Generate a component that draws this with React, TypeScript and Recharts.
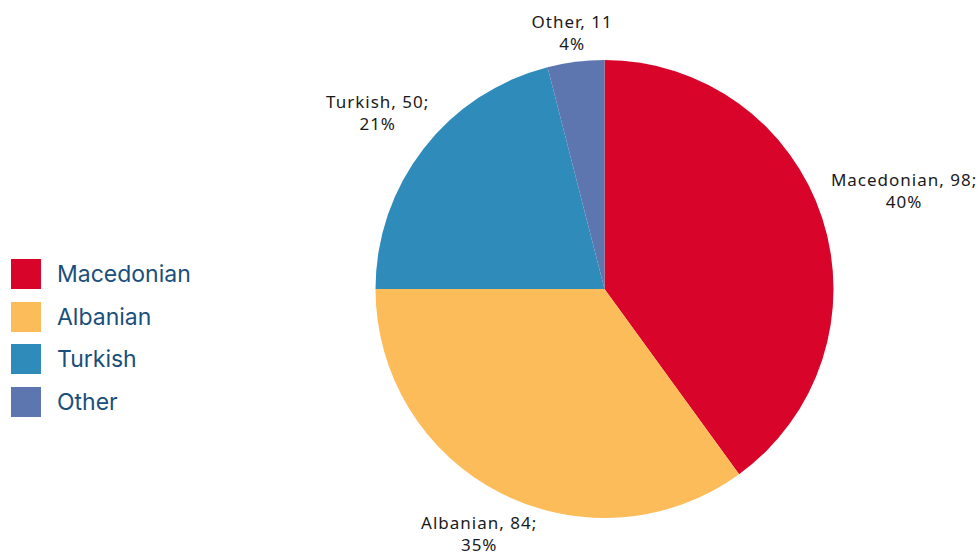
import React from "react";
import { PieChart, Pie, Cell } from "recharts";

const groups = ["Macedonian", "Albanian", "Turkish", "Other"];
const counts = [98, 84, 50, 11];
// slice sizes follow the rounded shares shown in the labels
const shares = [40, 35, 21, 4];
const separators = [";", ";", ";", ""];

const colors = ["#D90429", "#FDBC5A", "#2E8BBA", "#5E76B0"];
// how far past the rim each label's centre sits
const labelOffsets = [86, 47, 58, 29];

const data = groups.map((name, i) => ({ name, value: shares[i] }));

const RADIAN = Math.PI / 180;

const renderLabel = (props: any) => {
  const { cx, cy, midAngle, outerRadius, index } = props;
  const r = outerRadius + labelOffsets[index];
  const x = cx + r * Math.cos(-midAngle * RADIAN);
  const y = cy + r * Math.sin(-midAngle * RADIAN);
  return (
    <text
      x={x}
      y={y}
      textAnchor="middle"
      fill="#1a1a1a"
      fontSize={17}
      letterSpacing={1}
      fontFamily="'Noto Sans', sans-serif"
    >
      <tspan x={x} dy={-5.5}>{`${groups[index]}, ${counts[index]}${separators[index]}`}</tspan>
      <tspan x={x} dy={22}>{`${shares[index]}%`}</tspan>
    </text>
  );
};

const ChartLegend: React.FC = () => (
  <div
    style={{ position: "absolute", left: 11, top: 259, fontFamily: "Inter, sans-serif" }}
  >
    {groups.map((name, i) => (
      <div
        key={name}
        style={{ display: "flex", alignItems: "center", height: 30, marginBottom: 12.5 }}
      >
        <div style={{ width: 30, height: 30, background: colors[i], marginRight: 16 }} />
        <span style={{ fontSize: 23, color: "#1B4F7B", lineHeight: "30px" }}>{name}</span>
      </div>
    ))}
  </div>
);

const App: React.FC = () => {
  return (
    <div style={{ position: "absolute", left: 0, top: 0, width: 979, height: 555, background: "#fff" }}>
      <PieChart width={979} height={555} margin={{ top: 0, right: 0, bottom: 0, left: 0 }}>
        <Pie
          data={data}
          dataKey="value"
          nameKey="name"
          cx={604.5}
          cy={289}
          outerRadius={229}
          startAngle={90}
          endAngle={-270}
          stroke="none"
          labelLine={false}
          label={renderLabel}
          isAnimationActive={false}
        >
          {data.map((d, i) => (
            <Cell key={d.name} fill={colors[i]} />
          ))}
        </Pie>
      </PieChart>
      <ChartLegend />
    </div>
  );
};

export default App;
